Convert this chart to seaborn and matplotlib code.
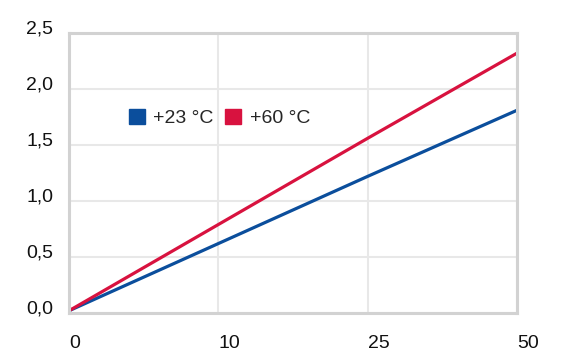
import matplotlib
matplotlib.use('Agg')
import matplotlib.pyplot as plt
from matplotlib.patches import Patch
import pandas as pd
import seaborn as sns

x_labels = ['0', '10', '25', '50']
blue_vals = [0.02, 0.62, 1.22, 1.81]
red_vals = [0.02, 0.79, 1.56, 2.32]
series_names = ['+23 °C', '+60 °C']
colors = ['#0b4e9c', '#d8123f']
y_ticks = [0.0, 0.5, 1.0, 1.5, 2.0, 2.5]
y_labels = ['0,0', '0,5', '1,0', '1,5', '2,0', '2,5']

sns.set_style('white')
plt.rcParams['font.family'] = ['Liberation Sans', 'DejaVu Sans']

df = pd.DataFrame({
    'pos': list(range(len(x_labels))) * 2,
    'value': blue_vals + red_vals,
    'series': [series_names[0]] * len(x_labels) + [series_names[1]] * len(x_labels),
})

fig = plt.figure(figsize=(5.7, 3.58), dpi=100)
ax = fig.add_axes([69 / 570, 1 - 313 / 358, 448 / 570, 280 / 358])

sns.lineplot(data=df, x='pos', y='value', hue='series', palette=colors,
             linewidth=2.3, legend=False, ax=ax)

ax.set_xlim(0, len(x_labels) - 1)
ax.set_ylim(0, 2.5)
ax.set_xticks(range(len(x_labels)))
ax.set_xticklabels(x_labels, ha='left')
ax.set_yticks(y_ticks)
ax.set_yticklabels(y_labels, va='baseline')
ax.set_xlabel('')
ax.set_ylabel('')
ax.tick_params(axis='both', length=0, labelsize=14, colors='#111111')
ax.tick_params(axis='y', pad=11.5)
ax.tick_params(axis='x', pad=16)

ax.grid(True, color='#e8e8e8', linewidth=1.5)
ax.set_axisbelow(True)
for s in ax.spines.values():
    s.set_visible(True)
    s.set_color('#d2d2d2')
    s.set_linewidth(2.2)

handles = [Patch(facecolor=c, edgecolor=c, label=n) for c, n in zip(colors, series_names)]
ax.legend(handles=handles, loc='center left', bbox_to_anchor=(0.095, 0.695),
          ncol=2, frameon=False, fontsize=14, handlelength=0.8, handleheight=0.8,
          handletextpad=0.45, columnspacing=0.6)

fig.savefig('out.png', dpi=100)
